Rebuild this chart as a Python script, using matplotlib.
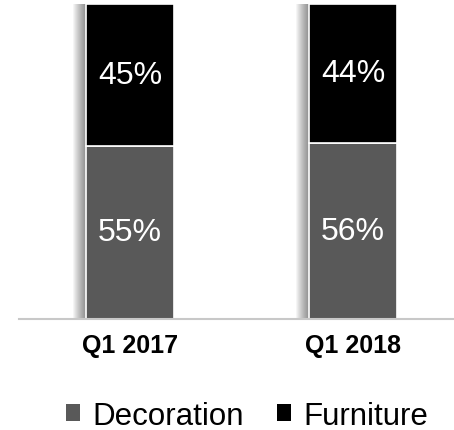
import numpy as np
import matplotlib.pyplot as plt

plt.rcParams['font.family'] = ['Liberation Sans', 'DejaVu Sans']

## Data

quarters = ['Q1 2017', 'Q1 2018']
decoration = [55, 56]
furniture = [45, 44]

deco_color = '#595959'
furn_color = '#000000'

## Figure

fig = plt.figure(figsize=(4.54, 4.31), dpi=100)
ax = fig.add_axes([0.042, 0.2575, 0.958, 0.7305])

X = np.arange(len(quarters))
width = 0.395

# soft shadow on the left of the bars
total = np.array(decoration) + np.array(furniture)
for k in range(13):
    off = (k + 1) / 223
    ax.bar(X - off, total / 100, width, color='black', alpha=0.04, linewidth=0, zorder=1)

b1 = ax.bar(X, np.array(decoration) / 100, width, color=deco_color,
            edgecolor='white', linewidth=1.2, label='Decoration', zorder=2)
b2 = ax.bar(X, np.array(furniture) / 100, width, bottom=np.array(decoration) / 100,
            color=furn_color, edgecolor='white', linewidth=1.2, label='Furniture', zorder=2)

for i in range(len(quarters)):
    ax.text(X[i], decoration[i] / 200, f'{decoration[i]}%', ha='center', va='center',
            color='white', fontsize=23, zorder=3)
    ax.text(X[i], (decoration[i] + furniture[i] / 2) / 100, f'{furniture[i]}%', ha='center',
            va='center', color='white', fontsize=23, zorder=3)

ax.set_xlim(-0.497, 1.452)
ax.set_ylim(0, 1)
ax.set_xticks(X)
ax.set_xticklabels(quarters, fontsize=18, fontweight='bold')
ax.tick_params(axis='x', length=0, pad=10)
ax.set_yticks([])
for s in ['top', 'right', 'left']:
    ax.spines[s].set_visible(False)
ax.spines['bottom'].set_color('#c8c8c8')
ax.spines['bottom'].set_linewidth(1.5)
ax.spines['bottom'].set_zorder(4)

leg = fig.legend(handles=[b1, b2], loc='center', bbox_to_anchor=(247 / 454, 1 - 417 / 431), ncol=2,
                 frameon=False, fontsize=22.5, handlelength=0.45, handleheight=0.45,
                 handletextpad=0.4, columnspacing=1.05)
for h in leg.legend_handles:
    h.set_edgecolor('none')

fig.savefig('out.png', dpi=100)
